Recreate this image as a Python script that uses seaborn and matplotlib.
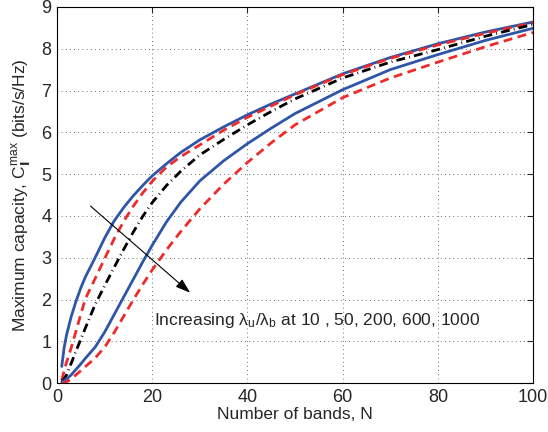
import numpy as np
import pandas as pd
import matplotlib
matplotlib.use("Agg")
import matplotlib.pyplot as plt
import seaborn as sns

# Number of bands (x) and capacity curves
n_bands = [1, 1.5, 2, 3, 4, 5, 6, 8, 10, 12, 14, 16, 18, 20, 23, 26, 30, 35, 40, 45, 50, 60, 70, 80, 90, 100]
cap_10 = [0.40, 0.85, 1.15, 1.60, 1.96, 2.28, 2.55, 3.00, 3.47, 3.88, 4.20, 4.48, 4.73, 4.96,
          5.25, 5.52, 5.82, 6.13, 6.42, 6.68, 6.92, 7.40, 7.79, 8.12, 8.40, 8.64]
cap_50 = [0.07, 0.30, 0.50, 0.85, 1.25, 1.65, 2.03, 2.50, 2.98, 3.45, 3.87, 4.23, 4.55, 4.83,
          5.17, 5.42, 5.70, 6.05, 6.36, 6.63, 6.90, 7.38, 7.77, 8.09, 8.37, 8.62]
cap_200 = [0.05, 0.10, 0.20, 0.48, 0.77, 1.05, 1.33, 1.88, 2.33, 2.77, 3.20, 3.61, 3.99, 4.32,
           4.73, 5.07, 5.46, 5.83, 6.18, 6.50, 6.80, 7.30, 7.68, 7.98, 8.30, 8.58]
cap_600 = [0.03, 0.06, 0.10, 0.20, 0.33, 0.46, 0.60, 0.86, 1.22, 1.64, 2.06, 2.48, 2.90, 3.30,
           3.86, 4.33, 4.84, 5.32, 5.73, 6.10, 6.45, 7.02, 7.50, 7.86, 8.20, 8.49]
cap_1000 = [0.00, 0.01, 0.03, 0.10, 0.20, 0.30, 0.40, 0.60, 0.86, 1.21, 1.60, 1.99, 2.36, 2.71,
            3.19, 3.63, 4.17, 4.76, 5.28, 5.75, 6.18, 6.83, 7.30, 7.68, 8.05, 8.39]

ratios = ["10", "50", "200", "600", "1000"]
curves = [cap_10, cap_50, cap_200, cap_600, cap_1000]

df = pd.concat(
    [pd.DataFrame({"N": n_bands, "C": c, "ratio": r}) for r, c in zip(ratios, curves)],
    ignore_index=True,
)

sns.set_style("white")
plt.rcParams["font.family"] = ["Liberation Sans", "DejaVu Sans"]
plt.rcParams["mathtext.default"] = "regular"

fig = plt.figure(figsize=(5.48, 4.32), dpi=100)
ax = fig.add_axes([0.104, 0.113, 0.869, 0.871])

blue = "#2e55a8"
red = "#ee2b2b"
styles = {
    "10": dict(color=blue, ls="-"),
    "50": dict(color=red, ls=(0, (3.2, 2.0))),
    "200": dict(color="black", ls=(0, (3.2, 1.5, 0.3, 1.5))),
    "600": dict(color=blue, ls="-"),
    "1000": dict(color=red, ls=(0, (3.2, 2.0))),
}

for r in ratios:
    sub = df[df["ratio"] == r]
    sns.lineplot(data=sub, x="N", y="C", ax=ax, lw=2.0, legend=False, **styles[r])

ax.set_xlim(0, 100)
ax.set_ylim(0, 9)
ax.set_xticks(range(0, 101, 20))
ax.set_yticks(range(0, 10))
ax.grid(True, ls=(0, (1, 4)), color="#444444", lw=0.6)
ax.tick_params(direction="in", length=4, labelsize=13, top=True, right=True, pad=4)
for s in ax.spines.values():
    s.set_color("black")
    s.set_linewidth(0.8)

ax.set_xlabel("Number of bands, N", fontsize=12.5, labelpad=1)
ax.set_ylabel(r"Maximum capacity, C$_{\mathbf{I}}^{max}$ (bits/s/Hz)", fontsize=12.5, labelpad=6)

ax.annotate(
    "",
    xy=(28.4, 2.12),
    xytext=(6.6, 4.28),
    arrowprops=dict(arrowstyle="-|>,head_length=0.9,head_width=0.3", color="black", lw=0.8),
)
ax.text(20.3, 1.5, r"Increasing λ$_u$/λ$_b$ at 10 , 50, 200, 600, 1000", fontsize=12.5, va="center")

fig.savefig("out.png", dpi=100)
